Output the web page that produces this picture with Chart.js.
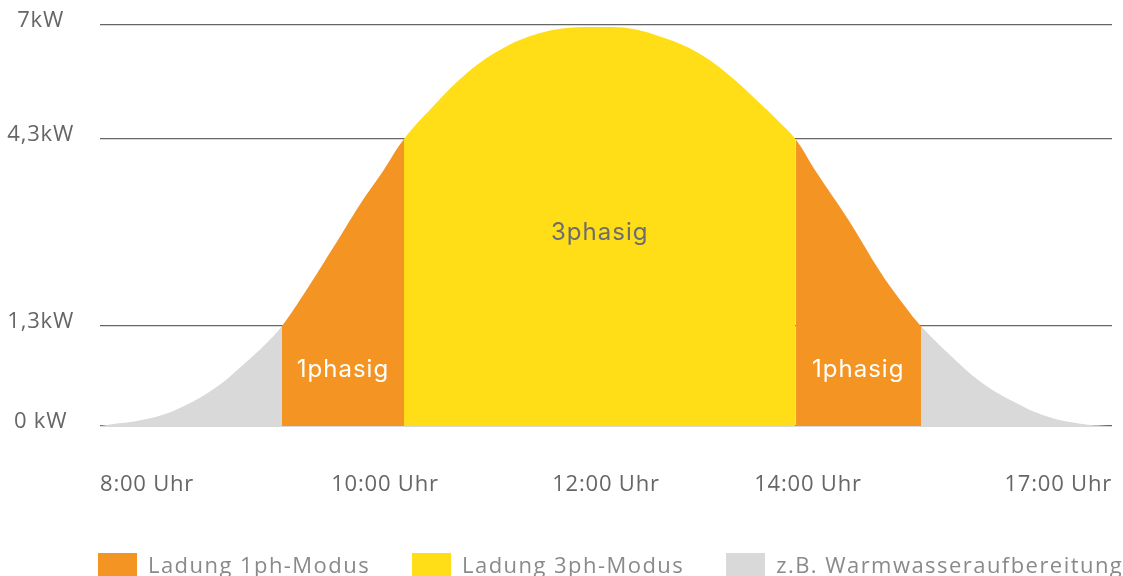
<!DOCTYPE html>
<html lang="de">
<head>
<meta charset="utf-8">
<title>Ladeleistung im Tagesverlauf</title>
<script src="https://cdn.jsdelivr.net/npm/chart.js@4/dist/chart.umd.min.js"></script>
<style>
  html, body { margin: 0; background: #fff; }
  #wrap { position: relative; width: 1123px; height: 576px; overflow: hidden; }
  #chart { display: block; }
  #legend {
    position: absolute; left: 98px; top: 553px; display: flex;
    font: 22px/22px 'Open Sans', sans-serif; letter-spacing: 1.45px;
    color: #8a8a8a; white-space: nowrap;
  }
  #legend .item { display: flex; align-items: flex-start; margin-right: 42px; }
  #legend .box { width: 39px; height: 39px; margin-right: 11px; }
</style>
</head>
<body>
<div id="wrap">
  <canvas id="chart" width="1123" height="576"></canvas>
  <div id="legend"></div>
</div>
<script>
// PV-Leistung über den Tag (Stunden / kW)
const hours = [8.0, 8.35, 8.58, 8.82, 9.0, 9.17, 9.277, 9.45, 9.64, 9.83, 9.99, 10.172,
  10.43, 10.74, 11.04, 11.34, 11.65, 11.95, 12.25, 12.58, 12.91, 13.24, 13.5, 13.7, 13.876,
  14.07, 14.4, 14.72, 14.96, 15.115, 15.38, 15.71, 16.04, 16.37, 16.69, 16.96];
const power = [0, 0.10, 0.25, 0.51, 0.79, 1.08, 1.3, 1.88, 2.57, 3.27, 3.80, 4.3,
  5.06, 5.86, 6.41, 6.76, 6.93, 6.95, 6.91, 6.69, 6.34, 5.77, 5.20, 4.74, 4.3,
  3.80, 3.00, 2.15, 1.61, 1.3, 0.95, 0.57, 0.31, 0.12, 0.03, 0];

const hourTicks = [8, 10, 12, 14, 17];
const hourLabels = ['8:00 Uhr', '10:00 Uhr', '12:00 Uhr', '14:00 Uhr', '17:00 Uhr'];
const powerTicks = [0, 1.3, 4.3, 7];
const powerLabels = ['0 kW', '1,3kW', '4,3kW', '7kW'];

// Schwellen: ab 1,3 kW einphasig, ab 4,3 kW dreiphasig laden
const modeLimits = [1.3, 4.3];
const modeNames = ['z.B. Warmwasseraufbereitung', 'Ladung 1ph-Modus', 'Ladung 3ph-Modus'];
const modeTags = [null, '1phasig', '3phasig'];
const modeColors = ['#d9d9d9', '#f39423', '#ffde17'];
const legendOrder = [1, 2, 0];

function modeOf(a, b) {
  const low = Math.min(a, b);
  let mode = 0;
  modeLimits.forEach((lim, i) => { if (low >= lim - 1e-9) mode = i + 1; });
  return mode;
}

// Achse mit frei gewichteten Abschnitten zwischen den Ticks
class SegmentedScale extends Chart.LinearScale {
  buildTicks() {
    return this.options.stops.map(value => ({ value }));
  }
  getPixelForValue(value) {
    const stops = this.options.stops;
    const weights = this.options.weights;
    const total = weights.reduce((a, b) => a + b, 0);
    let acc = 0;
    for (let i = 0; i < weights.length; i++) {
      const lo = stops[i], hi = stops[i + 1];
      if (value <= hi || i === weights.length - 1) {
        const t = (value - lo) / (hi - lo);
        return this.getPixelForDecimal((acc + t * weights[i]) / total);
      }
      acc += weights[i];
    }
  }
  getValueForPixel(pixel) {
    const stops = this.options.stops;
    const weights = this.options.weights;
    const total = weights.reduce((a, b) => a + b, 0);
    const d = this.getDecimalForPixel(pixel) * total;
    let acc = 0;
    for (let i = 0; i < weights.length; i++) {
      if (d <= acc + weights[i] || i === weights.length - 1) {
        return stops[i] + (d - acc) / weights[i] * (stops[i + 1] - stops[i]);
      }
      acc += weights[i];
    }
  }
}
SegmentedScale.id = 'segmented';
SegmentedScale.defaults = Chart.LinearScale.defaults;
Chart.register(SegmentedScale);

const tickFont = { family: "'Open Sans', sans-serif", size: 22 };

// feste Achsmaße, ohne zusätzlichen Randabstand der Achsen
function fixSize(prop, size) {
  return s => {
    s[prop] = size;
    s.paddingTop = s.paddingBottom = s.paddingLeft = s.paddingRight = 0;
  };
}

const spacingPlugin = {
  id: 'spacing',
  beforeDraw(chart) { chart.ctx.letterSpacing = '0.8px'; }
};

// Beschriftung der Ladebereiche
const modeTagPlugin = {
  id: 'modeTags',
  afterDatasetsDraw(chart) {
    const { ctx, scales: { x, y } } = chart;
    const runs = [];
    for (let i = 0; i < hours.length - 1; i++) {
      const m = modeOf(power[i], power[i + 1]);
      const last = runs[runs.length - 1];
      if (last && last.mode === m) last.to = hours[i + 1];
      else runs.push({ mode: m, from: hours[i], to: hours[i + 1] });
    }
    const levels = [0, ...modeLimits];
    const lift = [0, 6, 0];
    ctx.save();
    ctx.font = "24px Inter, sans-serif";
    ctx.letterSpacing = '1px';
    ctx.textAlign = 'center';
    ctx.textBaseline = 'middle';
    runs.forEach(r => {
      if (!modeTags[r.mode]) return;
      const cx = (x.getPixelForValue(r.from) + x.getPixelForValue(r.to)) / 2;
      const cy = (y.getPixelForValue(levels[r.mode - 1]) + y.getPixelForValue(levels[r.mode])) / 2;
      ctx.fillStyle = r.mode === 2 ? '#6d6d6d' : '#ffffff';
      ctx.fillText(modeTags[r.mode], cx, cy - lift[r.mode]);
    });
    ctx.restore();
  }
};

new Chart(document.getElementById('chart'), {
  type: 'line',
  data: {
    datasets: [{
      data: hours.map((h, i) => ({ x: h, y: power[i] })),
      fill: 'origin',
      borderWidth: 0,
      borderColor: 'transparent',
      pointRadius: 0,
      tension: 0.4,
      backgroundColor: modeColors[0],
      segment: {
        backgroundColor: c => modeColors[modeOf(c.p0.parsed.y, c.p1.parsed.y)]
      }
    }]
  },
  options: {
    responsive: false,
    animation: false,
    events: [],
    layout: { autoPadding: false, padding: { top: 25, right: 11, left: 0, bottom: 0 } },
    plugins: { legend: { display: false }, tooltip: { enabled: false } },
    scales: {
      x: {
        type: 'segmented',
        min: 8, max: 17,
        stops: hourTicks,
        weights: [285, 221, 202, 304],
        grid: { display: false },
        border: { display: false },
        afterFit: fixSize('height', 150),
        ticks: {
          autoSkip: false, maxRotation: 0, align: 'inner',
          padding: 38, color: '#666', font: tickFont,
          callback: (v, i) => hourLabels[i]
        }
      },
      y: {
        type: 'segmented',
        min: 0, max: 7,
        stops: powerTicks,
        weights: [100, 187, 114],
        z: 1,
        grid: { color: '#666', lineWidth: 1.3, drawTicks: false },
        border: { display: false },
        afterFit: fixSize('width', 100),
        ticks: {
          padding: 28, crossAlign: 'center', labelOffset: -4,
          color: '#666', font: tickFont,
          callback: (v, i) => powerLabels[i]
        }
      }
    }
  },
  plugins: [spacingPlugin, modeTagPlugin]
});

// Legende
const legend = document.getElementById('legend');
legendOrder.forEach(m => {
  const item = document.createElement('div');
  item.className = 'item';
  const box = document.createElement('span');
  box.className = 'box';
  box.style.background = modeColors[m];
  const text = document.createElement('span');
  text.textContent = modeNames[m];
  item.append(box, text);
  legend.appendChild(item);
});
</script>
</body>
</html>
